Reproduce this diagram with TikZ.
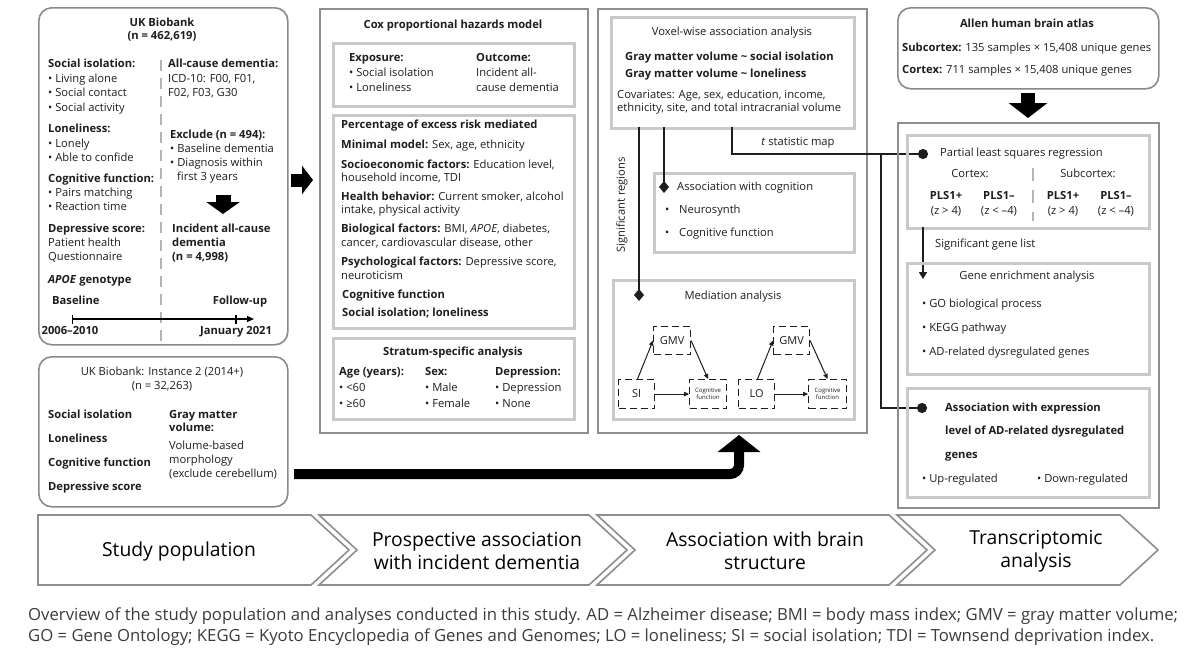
\documentclass[tikz,border=0pt]{standalone}
\usepackage{fontspec}
\setmainfont{Open Sans}
\usetikzlibrary{arrows.meta}
\definecolor{ink}{HTML}{1E1E1E}
\definecolor{rbord}{HTML}{8A8A8A}
\definecolor{obord}{HTML}{8E8E8E}
\definecolor{ibord}{HTML}{C9C9C9}
\definecolor{sepc}{HTML}{B4B4B4}
\definecolor{capc}{HTML}{3C3C3C}
\begin{document}
\begin{tikzpicture}[x=1pt,y=-1pt,
 every node/.style={text=ink},
 tl/.style={anchor=west,inner sep=0pt,text height=8.2pt,text depth=2.4pt,font=\fontsize{11.2}{13.5}\selectfont},
 tc/.style={tl,anchor=center},
 bx/.style={anchor=north west,inner sep=0pt},
 rbox/.style={bx,draw=rbord,line width=1.6pt,rounded corners=13pt},
 obox/.style={bx,draw=obord,line width=1.8pt},
 ibox/.style={bx,draw=ibord,line width=2.8pt},
 dbox/.style={bx,draw=ink,line width=1.1pt,dash pattern=on 7pt off 4pt,font=\fontsize{11}{13}\selectfont},
 conn/.style={draw=ink,line width=2.6pt},
 thin/.style={draw=ink,line width=1pt,-{Triangle[length=5pt,width=4.5pt]}},
 chev/.style={draw=obord,line width=1.6pt,fill=white},
 bann/.style={anchor=center,inner sep=0pt,align=center,font=\fontsize{19.3}{23}\selectfont,text=black},
 capn/.style={anchor=west,inner sep=0pt,font=\fontsize{16.7}{20}\selectfont,text=capc}
]
\fill[white] (0,0) rectangle (1200,656);
\useasboundingbox (0,0) rectangle (1200,656);

% ---------- Study population ----------
\node[rbox,minimum width=249pt,minimum height=337pt] (ukb) at (38,7) {};
\node[tc] (ukbT) at (162,24) {\textbf{UK Biobank}};
\node[tc] (ukbN) at (162,37) {\textbf{(n = 462,619)}};
\node[tl] (l1) at (48,65) {\textbf{Social isolation:}};
\node[tl] (l2) at (48,80) {\textbullet\ Living alone};
\node[tl] (l3) at (48,94) {\textbullet\ Social contact};
\node[tl] (l4) at (48,109) {\textbullet\ Social activity};
\node[tl] (l5) at (48,130) {\textbf{Loneliness:}};
\node[tl] (l6) at (48,145) {\textbullet\ Lonely};
\node[tl] (l7) at (48,159) {\textbullet\ Able to confide};
\node[tl] (l8) at (48,180) {\textbf{Cognitive function:}};
\node[tl] (l9) at (48,194) {\textbullet\ Pairs matching};
\node[tl] (l10) at (48,208) {\textbullet\ Reaction time};
\node[tl] (l11) at (48,230) {\textbf{Depressive score:}};
\node[tl] (l12) at (48,244) {Patient health};
\node[tl] (l13) at (48,258) {Questionnaire};
\node[tl] (l14) at (48,281) {\textbf{\textit{APOE} genotype}};
\node[tl] (l15) at (52,302) {\textbf{Baseline}};
\node[tl] (r1) at (168,65) {\textbf{All-cause dementia:}};
\node[tl] (r2) at (168,80) {ICD-10: F00, F01,};
\node[tl] (r3) at (168,94) {F02, F03, G30};
\node[tl] (r4) at (170,136) {\textbf{Exclude (n = 494):}};
\node[tl] (r5) at (170,150) {\textbullet\ Baseline dementia};
\node[tl] (r6) at (170,164) {\textbullet\ Diagnosis within};
\node[tl] (r7) at (177,178) {first 3 years};
\node[tl] (r8) at (172,230) {\textbf{Incident all-cause}};
\node[tl] (r9) at (172,244) {\textbf{dementia}};
\node[tl] (r10) at (172,258) {\textbf{(n = 4,998)}};
\node[tc] (fu) at (240,302) {\textbf{Follow-up}};
\node[tc] (y0) at (70,332) {\textbf{2006–2010}};
\node[tc] (y1) at (236,332) {\textbf{January 2021}};
\coordinate (s0) at (161,60);
\coordinate (s1) at (161,342);
\draw[draw=sepc,line width=2.6pt,dash pattern=on 11pt off 7pt] (s0) -- (s1);
\coordinate (tl0) at (72,319);
\coordinate (tl1) at (254,319);
\coordinate (tlm) at (236,319);
\draw[line width=1.3pt,{Bar[width=9pt]}-{Triangle[length=7pt,width=6pt]}] (tl0) -- (tl1);
\draw[line width=1.3pt] ([yshift=-4.5pt]tlm) -- ([yshift=4.5pt]tlm);
\coordinate (da0) at (223,195);
\coordinate (da1) at (223,214);
\draw[line width=15pt,-{Triangle[length=12pt,width=33pt]}] (da0) -- (da1);
\coordinate (ra0) at (291,180);
\coordinate (ra1) at (313,180);
\draw[line width=13pt,-{Triangle[length=11pt,width=28pt]}] (ra0) -- (ra1);

\node[rbox,minimum width=249pt,minimum height=150pt] (ukb2) at (38,356) {};
\node[tc] (u2T) at (162,373) {UK Biobank: Instance 2 (2014+)};
\node[tc] (u2N) at (162,387) {(n = 32,263)};
\node[tl] (m1) at (48,416) {\textbf{Social isolation}};
\node[tl] (m2) at (48,440) {\textbf{Loneliness}};
\node[tl] (m3) at (48,464) {\textbf{Cognitive function}};
\node[tl] (m4) at (48,488) {\textbf{Depressive score}};
\node[tl] (n1) at (169,416) {\textbf{Gray matter}};
\node[tl] (n2) at (169,429) {\textbf{volume:}};
\node[tl] (n3) at (169,447) {Volume-based};
\node[tl] (n4) at (169,461) {morphology};
\node[tl] (n5) at (169,475) {(exclude cerebellum)};

% ---------- Cox ----------
\node[obox,minimum width=268pt,minimum height=424pt] (cox) at (319,8) {};
\node[tc] (coxT) at (453,26) {\textbf{Cox proportional hazards model}};
\node[ibox,minimum width=241pt,minimum height=63pt] (coxA) at (332,42) {};
\node[tl] (e1) at (349,59) {\textbf{Exposure:}};
\node[tl] (e2) at (349,74) {\textbullet\ Social isolation};
\node[tl] (e3) at (349,89) {\textbullet\ Loneliness};
\node[tl] (o1) at (476,59) {\textbf{Outcome:}};
\node[tl] (o2) at (476,74) {Incident all-};
\node[tl] (o3) at (476,89) {cause dementia};
\node[ibox,minimum width=241pt,minimum height=213pt] (coxB) at (332,114) {};
\node[tl] (p1) at (341,126) {\textbf{Percentage of excess risk mediated}};
\node[tl] (p2) at (341,146) {\textbf{Minimal model:} Sex, age, ethnicity};
\node[tl] (p3) at (341,166) {\textbf{Socioeconomic factors:} Education level,};
\node[tl] (p4) at (341,179) {household income, TDI};
\node[tl] (p5) at (341,198) {\textbf{Health behavior:} Current smoker, alcohol};
\node[tl] (p6) at (341,211) {intake, physical activity};
\node[tl] (p7) at (341,230) {\textbf{Biological factors:} BMI, \textit{APOE}, diabetes,};
\node[tl] (p8) at (341,244) {cancer, cardiovascular disease, other};
\node[tl] (p9) at (341,263) {\textbf{Psychological factors:} Depressive score,};
\node[tl] (p10) at (341,277) {neuroticism};
\node[tl] (p11) at (342,296) {\textbf{Cognitive function}};
\node[tl] (p12) at (342,314) {\textbf{Social isolation; loneliness}};
\node[ibox,minimum width=241pt,minimum height=81pt] (coxC) at (332,337) {};
\node[tc] (stT) at (453,353) {\textbf{Stratum-specific analysis}};
\node[tl] (a1) at (339,373) {\textbf{Age (years):}};
\node[tl] (a2) at (339,389) {\textbullet\ <60};
\node[tl] (a3) at (339,405) {\textbullet\ ≥60};
\node[tl] (x1) at (425,373) {\textbf{Sex:}};
\node[tl] (x2) at (425,389) {\textbullet\ Male};
\node[tl] (x3) at (425,405) {\textbullet\ Female};
\node[tl] (d1) at (495,373) {\textbf{Depression:}};
\node[tl] (d2) at (495,389) {\textbullet\ Depression};
\node[tl] (d3) at (495,405) {\textbullet\ None};

% ---------- Brain structure ----------
\node[obox,minimum width=269pt,minimum height=424pt] (vox) at (597,8) {};
\node[ibox,minimum width=243pt,minimum height=111pt] (voxA) at (610,16) {};
\node[tc] (voxT) at (732,33) {Voxel-wise association analysis};
\node[tl] (g1) at (625,58) {\textbf{Gray matter volume \textasciitilde\ social isolation}};
\node[tl] (g2) at (625,75) {\textbf{Gray matter volume \textasciitilde\ loneliness}};
\node[tl] (g3) at (617,96) {Covariates: Age, sex, education, income,};
\node[tl] (g4) at (617,109) {ethnicity, site, and total intracranial volume};
\node[ibox,minimum width=200pt,minimum height=79pt] (cog) at (653,172) {};
\node[tl] (cogT) at (677,188) {Association with cognition};
\node[tl] (cb1) at (665,211) {\textbullet};
\node[tl] (c1) at (679,211) {Neurosynth};
\node[tl] (cb2) at (665,234) {\textbullet};
\node[tl] (c2) at (679,234) {Cognitive function};
\node[ibox,minimum width=241pt,minimum height=139pt] (med) at (612,279) {};
\node[tc] (medT) at (733,297) {Mediation analysis};
\node[dbox,minimum width=37pt,minimum height=28pt] (gmv1) at (653,326) {GMV};
\node[dbox,minimum width=36pt,minimum height=29pt] (si) at (618,379) {SI};
\node[dbox,minimum width=37pt,minimum height=29pt,align=center,font=\fontsize{6}{7}\selectfont] (cf1) at (689,379) {Cognitive\\function};
\node[dbox,minimum width=36pt,minimum height=28pt] (gmv2) at (773,326) {GMV};
\node[dbox,minimum width=36pt,minimum height=29pt] (lo) at (738,379) {LO};
\node[dbox,minimum width=38pt,minimum height=29pt,align=center,font=\fontsize{6}{7}\selectfont] (cf2) at (808,379) {Cognitive\\function};
\draw[thin] ([xshift=1pt]si.north) -- (gmv1.west);
\draw[thin] (gmv1.east) -- (cf1.north);
\draw[thin] (si.east) -- (cf1.west);
\draw[thin] ([xshift=1pt]lo.north) -- (gmv2.west);
\draw[thin] (gmv2.east) -- (cf2.north);
\draw[thin] (lo.east) -- (cf2.west);
\node[tc,rotate=90] (sigr) at (622,205) {Significant regions};
\node[tc] (tmap) at (798,143) {\textit{t} statistic map};
\coordinate (cA0) at (639,127);
\coordinate (cA1) at (639,301);
\coordinate (cB0) at (664,127);
\coordinate (cB1) at (664,193);
\coordinate (cC0) at (732,127);
\coordinate (cC1) at (732,154);
\coordinate (cC2) at (928,154);
\coordinate (cD0) at (881,154);
\coordinate (cD1) at (881,408);
\coordinate (cD2) at (927,408);
\draw[conn,-{Diamond[length=12pt,width=10pt]}] (cA0) -- (cA1);
\draw[conn,-{Diamond[length=12pt,width=10pt]}] (cB0) -- (cB1);
\draw[conn,-{Circle[length=10pt]}] (cC0) -- (cC1) -- (cC2);
\draw[conn,-{Circle[length=10pt]}] (cD0) -- (cD1) -- (cD2);
\coordinate (bA) at (294,474);
\coordinate (bB) at (739,474);
\coordinate (bC) at (739,435);
\draw[line width=10pt,rounded corners=9pt,-{Triangle[length=17pt,width=42pt]}] (bA) -- (bB) -- (bC);

% ---------- Transcriptomic ----------
\node[rbox,minimum width=261pt,minimum height=81pt] (allen) at (897,7) {};
\node[tc] (alT) at (1027,25) {\textbf{Allen human brain atlas}};
\node[tl] (al1) at (902,49) {\textbf{Subcortex:} 135 samples × 15,408 unique genes};
\node[tl] (al2) at (902,71) {\textbf{Cortex:} 711 samples × 15,408 unique genes};
\coordinate (aa0) at (1028,93);
\coordinate (aa1) at (1028,118);
\draw[line width=14pt,-{Triangle[length=15pt,width=38pt]}] (aa0) -- (aa1);
\node[obox,minimum width=261pt,minimum height=385pt] (tra) at (897,122) {};
\node[ibox,minimum width=242pt,minimum height=93pt] (pls) at (906,134) {};
\node[tl] (plsT) at (940,154) {Partial least squares regression};
\node[tc] (ctx) at (970,175) {Cortex:};
\node[tc] (sctx) at (1088,175) {Subcortex:};
\coordinate (q0) at (1033,168);
\coordinate (q1) at (1033,221);
\draw[draw=sepc,line width=2.6pt,dash pattern=on 13pt off 9pt] (q0) -- (q1);
\node[tc] (k1) at (946,197) {\textbf{PLS1+}};
\node[tc] (k2) at (946,212) {(z > 4)};
\node[tc] (k3) at (999,197) {\textbf{PLS1–}};
\node[tc] (k4) at (999,212) {(z < –4)};
\node[tc] (k5) at (1063,197) {\textbf{PLS1+}};
\node[tc] (k6) at (1063,212) {(z > 4)};
\node[tc] (k7) at (1116,197) {\textbf{PLS1–}};
\node[tc] (k8) at (1116,212) {(z < –4)};
\coordinate (ga0) at (923,227);
\coordinate (ga1) at (923,279);
\draw[line width=1.6pt,draw=ink,-{Triangle[length=7pt,width=8pt]}] (ga0) -- (ga1);
\node[tl] (sgl) at (935,245) {Significant gene list};
\node[ibox,minimum width=242pt,minimum height=111pt] (gen) at (906,262) {};
\node[tc] (genT) at (1027,277) {Gene enrichment analysis};
\node[tl] (h1) at (922,305) {\textbullet\ GO biological process};
\node[tl] (h2) at (922,329) {\textbullet\ KEGG pathway};
\node[tl] (h3) at (922,353) {\textbullet\ AD-related dysregulated genes};
\node[ibox,minimum width=242pt,minimum height=109pt] (asc) at (906,387) {};
\node[tl] (w1) at (945,409) {\textbf{Association with expression}};
\node[tl] (w2) at (945,432) {\textbf{level of AD-related dysregulated}};
\node[tl] (w3) at (945,456) {\textbf{genes}};
\node[tl] (w4) at (922,480) {\textbullet\ Up-regulated};
\node[tl] (w5) at (1037,480) {\textbullet\ Down-regulated};

% ---------- banner ----------
\draw[chev] (38,515) -- (311,515) -- (349,550) -- (311,585) -- (38,585) -- cycle;
\draw[chev] (319,515) -- (589,515) -- (627,550) -- (589,585) -- (319,585) -- (357,550) -- cycle;
\draw[chev] (597,515) -- (889,515) -- (927,550) -- (889,585) -- (597,585) -- (635,550) -- cycle;
\draw[chev] (897,515) -- (1120,515) -- (1158,550) -- (1120,585) -- (897,585) -- (935,550) -- cycle;
\node[bann] (bn1) at (179,551) {Study population};
\node[bann] (bn2) at (477,551) {Prospective association\\with incident dementia};
\node[bann] (bn3) at (765,551) {Association with brain\\structure};
\node[bann] (bn4) at (1036,551) {Transcriptomic\\analysis};

% ---------- caption ----------
\node[capn] (cap1) at (28,616) {Overview of the study population and analyses conducted in this study. AD = Alzheimer disease; BMI = body mass index; GMV = gray matter volume;};
\node[capn] (cap2) at (28,637) {GO = Gene Ontology; KEGG = Kyoto Encyclopedia of Genes and Genomes; LO = loneliness; SI = social isolation; TDI = Townsend deprivation index.};
\end{tikzpicture}
\end{document}
